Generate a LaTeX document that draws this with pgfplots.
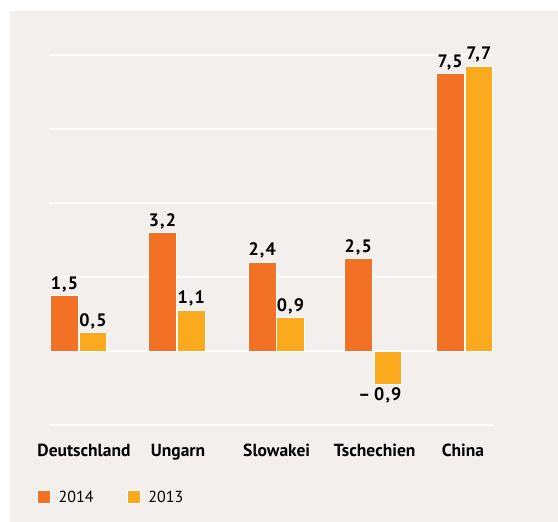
\documentclass[border=0pt]{standalone}
\usepackage{fontspec}
\setmainfont{PT Sans}
\newfontface\valfont[LetterSpace=6]{PT Sans Bold}
\usepackage{pgfplots}
\pgfplotsset{compat=1.18}
\definecolor{bg}{RGB}{243,239,236}
\definecolor{orng}{RGB}{242,113,36}
\definecolor{yell}{RGB}{251,170,29}
\begin{document}
\begin{tikzpicture}[x=1pt,y=1pt]
\useasboundingbox (0,0) rectangle (558,-522);
\fill[white] (0,0) rectangle (558,-522);
\fill[bg] (10,-11) rectangle (558,-522);
\begin{axis}[at={(50pt,-425pt)}, anchor=south west, scale only axis,
 width=443pt, height=370pt,
 xmin=50, xmax=493, ymin=-2, ymax=8,
 ytick={-2,0,2,4,6,8}, yticklabels={}, ymajorgrids,
 grid style={white, line width=1.5pt},
 xtick={84,178,276.7,374.7,463},
 xticklabels={Deutschland,Ungarn,Slowakei,Tschechien,China},
 xticklabel style={anchor=base, yshift=-31pt, font=\fontsize{17.5}{17.5}\selectfont\bfseries},
 major tick length=0pt, axis line style={draw=none},
 ybar, bar width=27.5,
 nodes near coords={\pgfplotspointmeta}, point meta=explicit symbolic,
 every node near coord/.append style={font=\fontsize{18}{18}\selectfont\valfont, black},
 legend columns=2,
 legend image code/.code={\fill[#1] (0pt,-6.5pt) rectangle (13pt,6.5pt);},
 legend style={at={(axis description cs:-0.03,-0.195)}, anchor=west, draw=none, fill=none,
   inner sep=0pt, font=\fontsize{16}{16}\selectfont,
   /tikz/every even column/.append style={column sep=31pt},
   /tikz/every odd column/.append style={column sep=6pt},
   cells={anchor=west}},
]
\addplot[fill=orng, draw=white, line width=0.8pt, bar shift=0pt] coordinates {
 (64.5,1.5) [{1,5}]
 (162.5,3.2) [{3,2}]
 (262.2,2.4) [{2,4}]
 (358.2,2.5) [{2,5}]
 (450.2,7.5) [{7,5}]
};
\addlegendentry{2014}
\addplot[fill=yell, draw=white, line width=0.8pt, bar shift=0pt] coordinates {
 (93,0.5) [{0,5}]
 (191.2,1.1) [{1,1}]
 (290.5,0.9) [{0,9}]
 (478.8,7.7) [{7,7}]
};
\addlegendentry{2013}
\addplot[fill=yell, draw=white, line width=0.8pt, bar shift=0pt, forget plot,
  every node near coord/.append style={anchor=north}] coordinates {
 (387.8,-0.9) [{\llap{\textendash\hspace{4pt}}0,9}]
};
\end{axis}
\end{tikzpicture}
\end{document}
